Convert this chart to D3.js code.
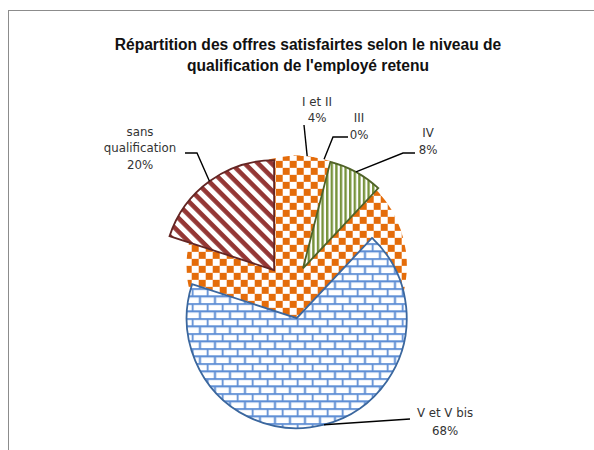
<!DOCTYPE html>
<html><head><meta charset="utf-8">
<script src="https://cdn.jsdelivr.net/npm/d3@7"></script>
<style>body{margin:0;background:#fff}svg{display:block}</style>
</head><body>
<svg id="c" width="594" height="450"></svg>
<script>
// ---- data ----
const categories = ["I et II", "III", "IV", "V et V bis", "sans qualification"];
const values = [4, 0, 8, 68, 20];
const percentLabels = ["4%", "0%", "8%", "68%", "20%"];
const titleLines = ["Répartition des offres satisfairtes selon le niveau de", "qualification de l'employé retenu"];

// ---- layout / style ----
const W = 594, H = 450;
const cx = 290, cy = 292, R = 110, explode = 27;
const patternIds = ["checkOrange", "checkOrange", "vGreen", "brickBlue", "diagRed"];
const outlines = ["none", "none", "#4F6228", "#3B679E", "#632523"];
const labelLayout = [
  {x: 317, ys: [102, 118], lines: ["I et II"], leader: [[304, 125]]},
  {x: 359, ys: [118, 135], lines: ["III"], leader: [[348, 137], [333, 137]]},
  {x: 428, ys: [133, 150], lines: ["IV"], leader: [[415, 153], [403, 153]]},
  {x: 445, ys: [413, 431], lines: ["V et V bis"], leader: [[410, 419]]},
  {x: 140, ys: [132, 148, 165], lines: ["sans", "qualification"], leader: [[185, 153], [197, 153]]}
];

const svg = d3.select("#c");
svg.append("rect").attr("width", W).attr("height", H).attr("fill", "#fff");
svg.append("rect").attr("x", 8.5).attr("y", 10.5).attr("width", 620).attr("height", 500)
  .attr("fill", "none").attr("stroke", "#8c8c8c").attr("stroke-width", 1);

// patterns
const defs = svg.append("defs");
let p = defs.append("pattern").attr("id", "checkOrange").attr("patternUnits", "userSpaceOnUse")
  .attr("width", 14).attr("height", 14);
p.append("rect").attr("width", 14).attr("height", 14).attr("fill", "#fff");
p.append("rect").attr("width", 7).attr("height", 7).attr("fill", "#E46C0A");
p.append("rect").attr("x", 7).attr("y", 7).attr("width", 7).attr("height", 7).attr("fill", "#E46C0A");

p = defs.append("pattern").attr("id", "vGreen").attr("patternUnits", "userSpaceOnUse")
  .attr("width", 4.6).attr("height", 10);
p.append("rect").attr("width", 4.6).attr("height", 10).attr("fill", "#fff");
p.append("rect").attr("width", 2.4).attr("height", 10).attr("fill", "#77933C");

p = defs.append("pattern").attr("id", "diagRed").attr("patternUnits", "userSpaceOnUse")
  .attr("width", 9.5).attr("height", 9.5).attr("patternTransform", "rotate(45)");
p.append("rect").attr("width", 9.5).attr("height", 9.5).attr("fill", "#fff");
p.append("rect").attr("width", 9.5).attr("height", 4.6).attr("fill", "#943634");

p = defs.append("pattern").attr("id", "brickBlue").attr("patternUnits", "userSpaceOnUse")
  .attr("width", 15).attr("height", 15);
p.append("rect").attr("width", 15).attr("height", 15).attr("fill", "#fff");
const bp = "M0,0.75H15M0,8.25H15M0.75,0V7.5M8.25,7.5V15";
p.append("path").attr("d", bp).attr("stroke", "#9DBDE8").attr("stroke-width", 2.6).attr("fill", "none");
p.append("path").attr("d", bp).attr("stroke", "#5B8BD3").attr("stroke-width", 1.3).attr("fill", "none");

// pie
const pie = d3.pie().sort(null).value(d => d).startAngle(0).endAngle(2 * Math.PI);
const arcs = pie(values);
const arcGen = d3.arc().innerRadius(0).outerRadius(R);

const g = svg.append("g");
arcs.forEach((a, i) => {
  const mid = (a.startAngle + a.endAngle) / 2;
  const ox = cx + explode * Math.sin(mid), oy = cy - explode * Math.cos(mid);
  a.ox = ox; a.oy = oy; a.mid = mid;
  // zero-size slice is rendered by the original as a full disk
  const shape = a.endAngle - a.startAngle === 0
    ? {startAngle: a.startAngle, endAngle: a.startAngle + 2 * Math.PI}
    : a;
  g.append("path")
    .attr("transform", `translate(${ox},${oy})`)
    .attr("d", arcGen(shape))
    .attr("fill", `url(#${patternIds[i]})`)
    .attr("stroke", outlines[i])
    .attr("stroke-width", outlines[i] === "none" ? 0 : 1.8)
    .attr("stroke-linejoin", "miter");
});

// leader lines
arcs.forEach((a, i) => {
  const L = labelLayout[i];
  const end = [a.ox + R * Math.sin(a.mid), a.oy - R * Math.cos(a.mid)];
  svg.append("path")
    .attr("d", d3.line()([...L.leader, end]))
    .attr("fill", "none").attr("stroke", "#000").attr("stroke-width", 1.4);
});

// labels
const labelFont = "'DejaVu Sans', sans-serif";
arcs.forEach((a, i) => {
  const L = labelLayout[i];
  const lines = [...L.lines, percentLabels[i]];
  lines.forEach((t, k) => {
    svg.append("text").attr("x", L.x).attr("y", L.ys[k]).attr("dy", "0.35em")
      .attr("text-anchor", "middle").attr("font-family", labelFont).attr("font-size", 11.8)
      .attr("fill", "#333").text(t);
  });
});

// title
titleLines.forEach((t, k) => {
  svg.append("text").attr("x", 308).attr("y", 45 + k * 21).attr("dy", "0.35em")
    .attr("text-anchor", "middle").attr("font-family", "'Liberation Sans', Arial, sans-serif")
    .attr("font-weight", "bold").attr("font-size", 15.6).attr("fill", "#111").text(t);
});
</script>
</body></html>
